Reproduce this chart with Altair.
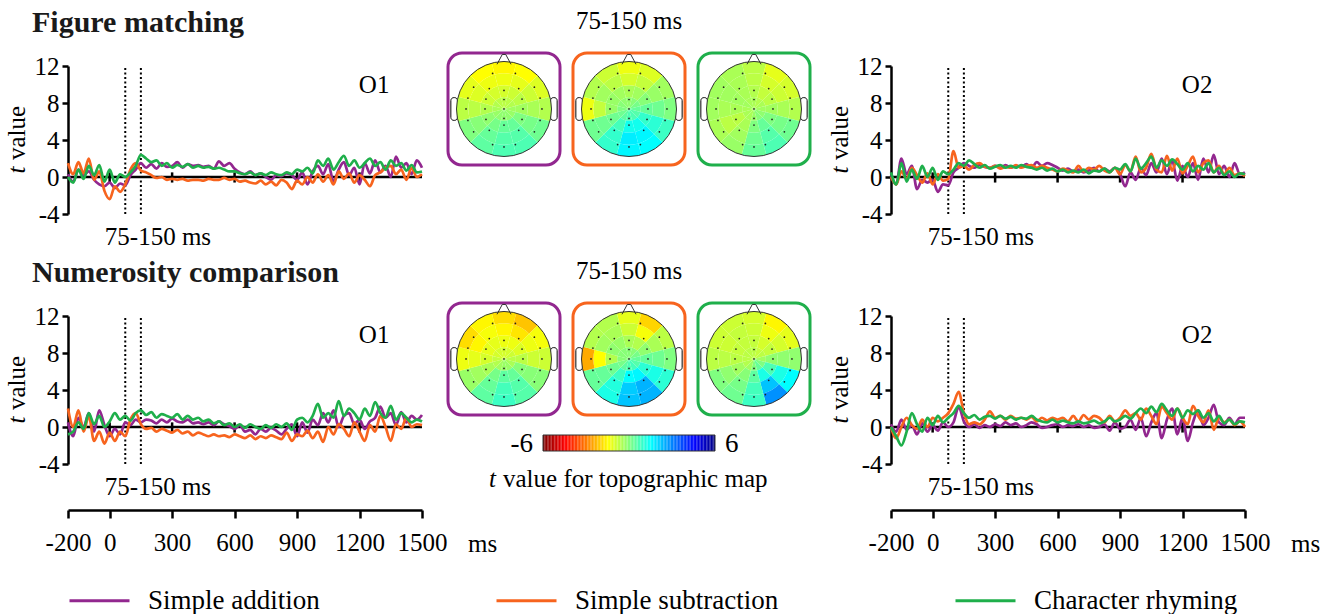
import altair as alt
import numpy as np
import pandas as pd

FONT = "Liberation Serif"

# ---------------- data ----------------
TIMES = list(range(-200, 1501, 25))
CONDITIONS = ["Simple addition", "Simple subtraction", "Character rhyming"]
COLORS = ["#92278F", "#F7641E", "#1FAF4B"]

fm_o1_add = [0.3, -0.5, 0.8, 0.2, 0.6, -0.3, -0.8, -1.0, -0.6, -1.2, -0.7, -0.9, 0.2, 0.8, 1.5, 1.0, 1.4, 0.9, 1.5, 1.1,
             1.2, 1.6, 1.0, 1.4, 1.2, 1.3, 1.1, 1.2, 0.9, 1.7, 1.2, 1.5, 0.9, 0.5, 0.3, 0.6, 0.2, 0.4, 0.0, -0.3,
             0.2, 0.1, 0.4, 0.2, -0.3, 0.5, -0.8, 0.6, 1.2, 0.3, 1.4, -0.5, 0.8, 1.6, 0.2, 1.0, -0.8, 1.5, 0.4, 1.8,
             0.5, 1.2, 0.0, 2.2, 1.0, 1.5, 0.3, 1.8, 1.0]
fm_o1_rhy = [0.0, -0.6, 0.8, -0.2, 1.2, 0.2, 1.3, -0.5, 0.8, -0.6, 0.3, 0.0, 0.5, 1.2, 2.4, 2.0, 1.6, 1.8, 1.2, 1.5,
             1.0, 1.3, 1.1, 1.4, 1.0, 1.2, 1.0, 1.1, 0.9, 1.0, 0.8, 0.6, 0.6, 0.4, 0.3, 0.5, 0.2, 0.4, 0.2, 0.5,
             0.3, 0.2, 0.5, 0.3, 0.8, 0.6, 1.0, 0.4, 1.8, 1.2, 2.0, 0.8, 1.6, 2.3, 1.2, 1.8, 1.0, 1.5, 2.0, 1.2,
             1.6, 0.8, 1.8, 1.2, 1.5, 0.7, 1.3, 0.5, 0.6]
fm_o1_sub = [1.5, 0.3, 1.6, 0.4, 2.0, -0.3, 0.6, -1.5, -2.4, -1.0, -1.6, -0.8, 0.8, 1.5, 0.7, 0.5, 0.2, -0.1, 0.0, -0.3,
             -0.2, -0.3, -0.2, -0.4, -0.3, -0.3, -0.4, -0.2, -0.3, -0.3, -0.1, -0.3, -0.2, -0.5, -0.4, -0.6, -0.7, -0.4, -0.8, -0.5,
             -0.9, -0.3, -0.6, -1.3, -0.4, -0.8, 0.0, -0.6, 0.3, -0.5, 0.2, -0.8, 0.6, -0.2, 0.4, -0.6, 0.2, -0.3, -1.0, 0.2,
             0.5, 1.0, 1.2, 0.3, 0.8, -0.3, 1.0, 0.0, 0.3]

fm_o2_add = [0.2, -0.8, 2.0, 0.3, 1.2, -1.3, -0.3, -0.6, -0.3, -1.6, -0.8, -0.9, 0.5, 1.0, 1.5, 1.2, 1.0, 1.3, 1.1, 1.0,
             1.2, 1.0, 1.3, 1.0, 1.2, 1.1, 1.4, 1.0, 1.6, 1.2, 1.5, 1.3, 1.0, 0.7, 0.9, 0.6, 0.8, 0.5, 0.7, 1.0,
             0.6, 0.9, 0.6, 1.0, 0.3, -1.0, 0.5, -0.3, 1.0, 0.2, 1.5, 0.5, 2.0, 0.3, 1.8, -0.4, 1.2, 0.0, 1.5, -0.3,
             2.0, 0.5, 2.4, 0.3, 1.2, 0.0, 1.5, 0.3, 0.5]
fm_o2_rhy = [0.5, -0.8, 1.5, -0.5, 0.8, -0.2, 1.2, 0.0, 1.0, -0.3, 0.6, 0.3, 0.8, 1.5, 1.2, 1.8, 1.4, 1.0, 1.3, 0.9,
             1.1, 1.3, 1.0, 1.2, 1.0, 1.3, 1.1, 1.0, 0.8, 1.0, 0.7, 0.9, 0.6, 0.8, 0.5, 0.7, 0.5, 0.8, 0.4, 0.7,
             0.6, 0.9, 0.5, 1.0, 0.8, 1.4, 0.6, 2.0, 0.9, 1.5, 2.2, 1.0, 1.8, 1.2, 1.9, 1.4, 0.8, 1.5, 0.6, 1.2,
             0.8, 1.5, 0.5, 1.0, 0.2, 0.6, 0.0, 0.4, 0.3]
fm_o2_sub = [0.0, -0.8, 0.6, -0.2, 1.0, 0.2, -0.6, 0.4, -0.8, 0.3, -0.4, -0.2, 2.8, 1.0, 1.2, 0.8, 1.3, 1.5, 1.1, 1.0,
             1.2, 0.9, 1.1, 1.0, 1.3, 1.0, 1.2, 1.3, 1.0, 1.2, 1.0, 0.8, 0.6, 0.9, 0.7, 0.5, 1.2, 0.6, 1.0, 0.8,
             1.2, 0.7, 0.5, 1.0, 0.3, 1.3, 0.6, 2.2, 0.5, 1.0, 2.5, 0.8, 0.5, 2.3, 0.7, 2.0, 0.4, 1.2, 2.2, 0.5,
             1.5, 1.8, 0.5, 1.2, 0.3, 1.0, 0.2, 0.4, 0.1]

nc_o1_add = [0.5, -1.0, 1.0, 0.0, 1.5, -0.5, 1.8, 0.2, -1.0, -0.2, -0.8, 0.5, 0.2, 0.8, 0.5, 0.8, 0.7, 0.4, 0.8, 0.5,
             0.9, 0.6, 0.5, 0.8, 0.4, 0.5, 0.3, 0.5, 0.2, 0.6, 0.3, 0.1, -0.2, 0.2, -0.5, -0.3, -0.8, -0.2, -0.5, -0.1,
             -0.4, -0.8, -0.2, 0.3, -1.0, 0.5, -0.6, 0.8, 0.2, 1.5, 0.5, 1.8, 0.0, 1.2, 1.5, 0.3, 0.8, -0.2, 0.6, 1.0,
             2.2, 1.0, 1.5, 0.2, 1.6, 0.5, 1.2, 0.8, 1.3]
nc_o1_rhy = [-0.8, -0.5, 0.5, -0.2, 1.5, 0.3, 1.2, 0.0, 0.6, 1.5, 0.8, 1.2, 0.7, 1.5, 1.8, 1.3, 1.6, 1.0, 1.4, 1.2,
             1.0, 1.4, 0.8, 1.2, 0.8, 1.0, 0.6, 0.8, 0.4, 0.6, 0.2, 0.4, 0.0, 0.3, -0.1, 0.3, 0.0, -0.2, 0.2, -0.1,
             0.3, 0.0, 0.4, -0.3, 0.8, 1.0, 0.5, 1.2, 2.5, 1.0, 1.5, 1.0, 2.8, 1.2, 2.0, 1.5, 0.8, 2.0, 1.2, 2.7,
             1.5, 1.0, 2.3, 0.8, 1.5, 1.0, 0.5, 0.8, 0.6]
nc_o1_sub = [2.0, 0.0, 1.8, -0.5, 1.2, -1.5, -0.5, -1.8, -0.6, -1.5, -0.5, -1.0, 0.8, 1.5, 0.3, -0.2, -0.1, -0.5, -0.2, -0.4,
             -0.6, -0.3, -0.7, -0.5, -0.9, -0.6, -0.8, -1.0, -0.8, -1.0, -0.9, -1.1, -0.8, -1.0, -1.2, -0.9, -1.3, -1.0, -1.2, -0.9,
             -1.1, -1.3, -0.6, -1.5, -0.8, -1.0, -0.4, -1.2, -0.5, -1.6, 0.0, -0.8, 0.3, -0.2, -1.0, 0.5, -0.5, -1.5, 0.2, -0.5,
             1.2, 0.0, -1.5, 0.3, -0.2, 1.0, 0.0, 0.3, 0.2]

nc_o2_add = [0.3, -0.5, 0.8, -0.3, 0.2, -0.8, 0.4, -0.5, 0.2, -0.4, 0.5, 0.0, 0.5, 2.2, 0.6, 0.0, 0.3, -0.1, 0.2, 0.0,
             0.3, 0.1, 0.5, 0.2, 0.4, 0.0, 0.2, 0.5, 0.3, -0.1, 0.0, 0.2, 0.3, 0.0, 0.2, 0.1, 0.3, 0.0, 0.2, -0.1,
             0.0, 0.3, -0.4, 0.5, -0.2, 0.0, 0.8, -0.3, 1.0, -1.0, 0.5, 1.5, -1.2, 0.8, 2.0, -0.8, 1.0, -1.5, 0.5, 1.8,
             0.2, 1.0, 2.4, 0.5, 0.2, 1.0, 0.3, 1.0, 1.0]
nc_o2_rhy = [0.0, -1.0, -2.0, -0.5, 1.5, 0.3, -0.5, 1.0, 0.2, 1.2, 0.5, 1.0, 1.5, 2.3, 1.5, 1.0, 1.3, 0.8, 1.1, 1.2,
             0.9, 1.2, 0.9, 1.1, 0.8, 1.0, 0.9, 1.2, 0.8, 0.6, 0.5, 0.8, 0.5, 0.7, 0.5, 0.4, 0.6, 0.4, 0.5, 0.7,
             0.4, 0.6, 1.0, 0.6, 0.8, 1.2, 0.9, 1.5, 2.0, 1.5, 2.2, 1.6, 2.5, 1.8, 1.2, 2.0, 1.0, 1.8, 1.4, 1.8,
             1.0, 1.5, 0.6, 1.2, 0.4, 0.8, 0.3, 0.6, 0.5]
nc_o2_sub = [0.0, -1.2, 0.0, 1.0, 0.2, -0.2, 0.8, 0.0, 1.0, 0.6, 1.0, 1.5, 2.5, 3.8, 1.5, 0.3, 0.5, 0.3, 0.8, 1.7,
             1.0, 1.2, 0.8, 1.2, 0.9, 1.0, 0.8, 1.1, 0.6, 1.0, 0.7, 1.0, 0.8, 1.0, 0.6, 1.2, 0.6, 1.3, 0.8, 1.2,
             1.0, 0.5, 1.2, 0.6, 1.0, 1.8, 1.2, 1.5, 0.8, 2.0, 1.2, 0.3, 2.2, 1.5, 0.8, 2.0, 1.0, 0.3, 2.3, 1.2,
             0.5, 1.8, -0.3, 1.0, 0.5, 0.8, 0.2, 0.6, 0.0]

WINDOW = [75, 150]
ZERO_TICKS = [0, 300, 600, 900, 1200]
X_TICKS = [-200, 0, 300, 600, 900, 1200, 1500]
Y_TICKS = [-4, 0, 4, 8, 12]

# topographic maps: rings (centre -> edge) x 12 sectors (clockwise from nose)
RING_EDGES = [0.0, 0.25, 0.5, 0.75, 1.0]
topo_fm_add = [[-0.7, -0.7, -0.6, -0.4, -0.3, -0.2, -0.2, -0.2, -0.3, -0.5, -0.6, -0.7],
               [-1.0, -0.9, -0.7, -0.4, 0.0, 0.3, 0.3, 0.1, -0.2, -0.6, -0.9, -1.0],
               [-1.3, -1.2, -0.9, -0.5, 0.1, 0.5, 0.5, 0.3, -0.1, -0.7, -1.1, -1.3],
               [-1.6, -1.5, -1.1, -0.6, 0.2, 0.6, 0.6, 0.4, 0.0, -0.7, -1.2, -1.5]]
topo_fm_sub = [[-0.2, -0.1, 0.1, 0.3, 0.5, 0.6, 0.6, 0.4, 0.2, 0.0, -0.1, -0.2],
               [-0.5, -0.4, -0.1, 0.3, 0.9, 1.3, 1.3, 0.7, 0.2, -0.3, -0.3, -0.4],
               [-1.0, -0.8, -0.3, 0.2, 1.0, 1.6, 1.7, 0.9, 0.2, -0.8, -0.4, -0.7],
               [-1.3, -1.1, -0.4, 0.0, 0.8, 1.5, 1.6, 0.9, 0.2, -1.3, -0.6, -0.9]]
topo_fm_rhy = [[-0.5, -0.6, -0.5, -0.4, -0.2, -0.1, -0.3, -0.5, -0.5, -0.5, -0.4, -0.5],
               [-0.6, -0.8, -0.7, -0.4, 0.0, 0.3, 0.0, -0.5, -0.7, -0.5, -0.4, -0.5],
               [-0.7, -1.0, -0.9, -0.5, 0.1, 0.5, 0.2, -0.4, -0.7, -0.5, -0.4, -0.5],
               [-0.7, -1.2, -1.0, -0.6, 0.2, 0.6, 0.3, -0.3, -0.5, -0.4, -0.4, -0.5]]
topo_nc_add = [[-1.0, -1.0, -0.9, -0.7, -0.5, -0.3, -0.3, -0.4, -0.6, -0.8, -1.0, -1.0],
               [-1.3, -1.3, -1.1, -0.7, -0.1, 0.3, 0.4, 0.1, -0.5, -1.0, -1.2, -1.2],
               [-1.6, -1.8, -1.3, -0.9, -0.1, 0.5, 0.7, 0.3, -0.4, -1.2, -1.6, -1.4],
               [-1.9, -2.2, -1.4, -0.9, -0.1, 0.5, 0.8, 0.4, -0.3, -1.3, -1.9, -1.6]]
topo_nc_sub = [[-0.1, -0.1, 0.1, 0.3, 0.5, 0.7, 0.6, 0.4, 0.1, -0.1, -0.1, -0.1],
               [-0.5, -0.6, -0.2, 0.3, 1.0, 1.6, 1.5, 0.8, 0.2, -0.6, -0.2, -0.3],
               [-0.9, -1.4, -0.5, 0.2, 1.2, 2.4, 2.1, 1.1, 0.3, -1.5, -0.4, -0.5],
               [-1.2, -2.0, -0.7, 0.0, 1.0, 2.4, 2.2, 1.2, 0.3, -2.5, -0.6, -0.6]]
topo_nc_rhy = [[-0.7, -0.8, -0.7, -0.4, 0.0, 0.3, 0.0, -0.4, -0.6, -0.7, -0.7, -0.7],
               [-0.8, -1.0, -0.8, -0.2, 0.6, 1.2, 0.4, -0.1, -0.4, -0.7, -0.8, -0.8],
               [-0.9, -1.3, -1.0, -0.2, 1.2, 2.2, 0.7, 0.1, -0.2, -0.7, -0.9, -0.8],
               [-1.0, -1.6, -1.2, -0.2, 1.5, 2.8, 0.8, 0.2, 0.0, -0.7, -0.9, -0.9]]

ELECTRODE_X = [-0.24, 0.24,
               -0.64, -0.31, 0.0, 0.31, 0.64,
               -0.76, -0.38, 0.0, 0.38, 0.76,
               -0.8, -0.4, 0.0, 0.4, 0.8,
               -0.76, -0.38, 0.0, 0.38, 0.76,
               -0.64, -0.31, 0.0, 0.31, 0.64,
               -0.24, 0.0, 0.24]
ELECTRODE_Y = [0.75, 0.75,
               0.46, 0.43, 0.39, 0.43, 0.46,
               0.23, 0.21, 0.2, 0.21, 0.23,
               0.0, 0.0, 0.0, 0.0, 0.0,
               -0.24, -0.22, -0.2, -0.22, -0.24,
               -0.48, -0.45, -0.34, -0.45, -0.48,
               -0.75, -0.8, -0.75]

CBAR_LIMITS = [-6, 6]
JET_DOMAIN = [-6, -4.5, -3, -1.5, 0, 1.5, 3, 4.5, 6]
JET_RANGE = ["#800000", "#ff0000", "#ff8000", "#ffff00", "#80ff80", "#00ffff", "#0080ff", "#0000ff", "#000080"]

# ---------------- layout constants ----------------
PW, PH = 354, 148          # ERP plot area
MW = 417                   # middle (topographic) column width
BOX = 112                  # head box size (px)
HEAD_STEP = 125            # distance between head boxes (px)
R = 47.5                   # head radius (px)
U = 2.36 / BOX             # head data units per px
TOPO = alt.Scale(domain=JET_DOMAIN, range=JET_RANGE, interpolate="rgb")
XS = alt.Scale(domain=[-200, 1500], nice=False, zero=False)
YS = alt.Scale(domain=[-4, 12], nice=False, zero=False)

NBSP2 = "\u00a0\u00a0"
LEGEND = alt.Legend(title=None, orient="none", legendX=0, legendY=503, direction="horizontal", columns=3,
                    columnPadding=170, symbolType="stroke", symbolSize=3600, symbolStrokeWidth=3,
                    labelFont=FONT, labelFontSize=27, labelColor="black", labelOffset=17, labelLimit=400,
                    labelExpr="datum.label == 'Simple subtraction' ? datum.label + '" + NBSP2 + "' : datum.label")


def erp_panel(add, sub, rhy, label, title, bottom):
    df = pd.DataFrame({
        "time": TIMES * 3,
        "t": add + sub + rhy,
        "cond": [CONDITIONS[0]] * len(TIMES) + [CONDITIONS[1]] * len(TIMES) + [CONDITIONS[2]] * len(TIMES),
    })
    if bottom:
        xaxis = alt.Axis(values=X_TICKS, offset=46, domainWidth=2.5, domainColor="black", tickWidth=2.5,
                         tickColor="black", tickSize=8, labelFontSize=25, labelFont=FONT, labelColor="black",
                         labelPadding=12, grid=False, title=None, labelFlush=False, labelOverlap=False,
                         labelExpr="'' + datum.value")
    else:
        xaxis = None
    yaxis = alt.Axis(values=Y_TICKS, domainWidth=2.5, domainColor="black", tickWidth=2.5, tickColor="black",
                     tickSize=6, labelFontSize=25, labelFont=FONT, labelColor="black", labelPadding=3,
                     labelExpr="'' + datum.value", grid=False, title=None)

    def X(f):
        return alt.X(f, scale=XS, axis=xaxis)

    def Y(f):
        return alt.Y(f, scale=YS, axis=yaxis)

    lines = alt.Chart(df).mark_line(strokeWidth=2.7, interpolate="monotone").encode(
        x=X("time:Q"), y=Y("t:Q"),
        stroke=alt.Stroke("cond:N", scale=alt.Scale(domain=CONDITIONS, range=COLORS), legend=LEGEND),
    )
    zero = alt.Chart(pd.DataFrame({"time": [-200], "end": [1500], "t": [0]})).mark_rule(
        color="black", strokeWidth=2.5).encode(x=X("time:Q"), x2="end:Q", y=Y("t:Q"))
    zt = alt.Chart(pd.DataFrame({"time": ZERO_TICKS, "t": [-0.6] * 5, "t2": [0.5] * 5})).mark_rule(
        color="black", strokeWidth=2.5).encode(x=X("time:Q"), y=Y("t:Q"), y2="t2:Q")
    win = alt.Chart(pd.DataFrame({"time": WINDOW, "t": [-4, -4], "t2": [12, 12]})).mark_rule(
        color="black", strokeWidth=2, strokeDash=[2, 2.5]).encode(x=X("time:Q"), y=Y("t:Q"), y2="t2:Q")
    txt = alt.Chart(pd.DataFrame({"time": [1270, 232], "t": [10, -6.5], "s": [label, "75-150 ms"]})).mark_text(
        font=FONT, fontSize=25, color="black").encode(x=X("time:Q"), y=Y("t:Q"), text="s:N")
    # y-axis title "t value" with an italic t
    yt_t = alt.Chart(pd.DataFrame({"s": ["t"]})).mark_text(
        font=FONT, fontSize=25, fontStyle="italic", color="black", angle=270, baseline="bottom").encode(
        x=alt.value(-38), y=alt.value(104), text="s:N")
    yt_v = alt.Chart(pd.DataFrame({"s": ["value"]})).mark_text(
        font=FONT, fontSize=25, color="black", angle=270, baseline="bottom").encode(
        x=alt.value(-38), y=alt.value(67), text="s:N")
    layers = [win, zero, zt, lines, txt, yt_t, yt_v]
    if bottom:
        ms = alt.Chart(pd.DataFrame({"time": [1500], "t": [-4], "s": ["ms"]})).mark_text(
            font=FONT, fontSize=25, color="black", align="left", baseline="middle", dx=46, dy=80).encode(
            x=X("time:Q"), y=Y("t:Q"), text="s:N")
        layers.append(ms)
    ch = alt.layer(*layers).properties(width=PW, height=PH)
    if title is not None:
        ch = ch.properties(title=alt.TitleParams(title, anchor="start", frame="group", fontSize=30, font=FONT,
                                                 fontWeight="bold", color="#1a1a1a", dx=-36, offset=16))
    return ch


def heads_layer(maps):
    hx = alt.Scale(domain=[-1.18, -1.18 + MW * U], nice=False, zero=False)
    hy = alt.Scale(domain=[-2.213, 0.906], nice=False, zero=False)
    layers = []
    for i, (vals, color) in enumerate(zip(maps, COLORS)):
        cx = i * HEAD_STEP * U
        box = alt.Chart(pd.DataFrame({"x0": [cx - 1.18], "x1": [cx + 1.18], "y0": [-1.18], "y1": [1.18]})).mark_rect(
            fill="white", stroke=color, strokeWidth=3, cornerRadius=14).encode(
            x=alt.X("x0:Q", scale=hx, axis=None), x2="x1:Q", y=alt.Y("y0:Q", scale=hy, axis=None), y2="y1:Q")
        ears = alt.Chart(pd.DataFrame({"x0": [cx - 1.12, cx + 0.98], "x1": [cx - 0.98, cx + 1.12],
                                       "y0": [-0.24, -0.24], "y1": [0.24, 0.24]})).mark_rect(
            fill="white", stroke="black", strokeWidth=1, cornerRadius=3).encode(
            x=alt.X("x0:Q", scale=hx, axis=None), x2="x1:Q", y=alt.Y("y0:Q", scale=hy, axis=None), y2="y1:Q")
        rows = []
        for j in range(4):
            for k in range(12):
                rows.append({"cx": cx, "cy": 0.0, "r0": RING_EDGES[j], "r1": RING_EDGES[j + 1],
                             "a0": k * 30 - 15, "a1": k * 30 + 15, "tv": vals[j][k]})
        arcs = alt.Chart(pd.DataFrame(rows)).mark_arc(strokeWidth=0).encode(
            x=alt.X("cx:Q", scale=hx, axis=None), y=alt.Y("cy:Q", scale=hy, axis=None),
            theta=alt.Theta("a0:Q", stack=None, scale=alt.Scale(domain=[0, 360], range=[0, 2 * np.pi])),
            theta2="a1:Q",
            radius=alt.Radius("r0:Q", scale=alt.Scale(type="linear", domain=[0, 1], range=[0, R])),
            radius2="r1:Q",
            fill=alt.Fill("tv:Q", scale=TOPO, legend=None),
        )
        outline = alt.Chart(pd.DataFrame({"x": [cx], "y": [0.0]})).mark_point(
            shape="circle", size=(2 * R) ** 2, filled=False, color="#333", strokeWidth=1, opacity=1).encode(
            x=alt.X("x:Q", scale=hx, axis=None), y=alt.Y("y:Q", scale=hy, axis=None))
        nose = alt.Chart(pd.DataFrame({"x": [cx], "y": [1.06]})).mark_point(
            shape="M -1 0.8 L -0.25 -0.6 L 0.25 -0.6 L 1 0.8", size=196, filled=False, color="#333",
            strokeWidth=1, opacity=1).encode(
            x=alt.X("x:Q", scale=hx, axis=None), y=alt.Y("y:Q", scale=hy, axis=None))
        elec = alt.Chart(pd.DataFrame({"x": [cx + e for e in ELECTRODE_X], "y": ELECTRODE_Y})).mark_point(
            shape="circle", size=3, filled=True, color="#222", opacity=1).encode(
            x=alt.X("x:Q", scale=hx, axis=None), y=alt.Y("y:Q", scale=hy, axis=None))
        layers += [box, ears, arcs, outline, nose, elec]
    return alt.layer(*layers)


def colorbar_layer():
    vals = [round(v, 2) for v in np.arange(-6, 6.0, 0.1)]
    df = pd.DataFrame({"v": vals, "v2": [v + 0.1 for v in vals]})
    cpx = 12 / 172  # colorbar units per px
    sx = alt.Scale(domain=[-6 - 95 * cpx, -6 - 95 * cpx + MW * cpx], nice=False, zero=False)
    bar = alt.Chart(df).mark_rect().encode(
        x=alt.X("v:Q", scale=sx, axis=None), x2="v2:Q", y=alt.value(119), y2=alt.value(135),
        fill=alt.Fill("v:Q", scale=TOPO, legend=None))
    frame = alt.Chart(pd.DataFrame({"a": [-6], "b": [6]})).mark_rect(
        fillOpacity=0, stroke="#333", strokeWidth=1).encode(
        x=alt.X("a:Q", scale=sx, axis=None), x2="b:Q", y=alt.value(119), y2=alt.value(135))
    lab_l = alt.Chart(pd.DataFrame({"v": [CBAR_LIMITS[0]], "s": ["-6"]})).mark_text(
        font=FONT, fontSize=27, color="black", align="right", dx=-10).encode(
        x=alt.X("v:Q", scale=sx, axis=None), y=alt.value(128), text="s:N")
    lab_r = alt.Chart(pd.DataFrame({"v": [CBAR_LIMITS[1]], "s": ["6"]})).mark_text(
        font=FONT, fontSize=27, color="black", align="left", dx=10).encode(
        x=alt.X("v:Q", scale=sx, axis=None), y=alt.value(128), text="s:N")
    cap_t = alt.Chart(pd.DataFrame({"v": [0], "s": ["t"]})).mark_text(
        font=FONT, fontSize=25, fontStyle="italic", color="black", align="left", dx=-140).encode(
        x=alt.X("v:Q", scale=sx, axis=None), y=alt.value(163), text="s:N")
    cap = alt.Chart(pd.DataFrame({"v": [0], "s": ["value for topographic map"]})).mark_text(
        font=FONT, fontSize=25, color="black", align="left", dx=-126).encode(
        x=alt.X("v:Q", scale=sx, axis=None), y=alt.value(163), text="s:N")
    return alt.layer(bar, frame, lab_l, lab_r, cap_t, cap)


MID_TITLE = dict(anchor="middle", fontSize=25, font=FONT, fontWeight="normal", color="black", offset=17,
                 dx=-(MW - (2 * HEAD_STEP + BOX)) / 2)

mid1 = heads_layer([topo_fm_add, topo_fm_sub, topo_fm_rhy]).properties(
    width=MW, height=PH, title=alt.TitleParams("75-150 ms", **MID_TITLE))
mid2 = alt.layer(heads_layer([topo_nc_add, topo_nc_sub, topo_nc_rhy]), colorbar_layer()).resolve_scale(
    x="independent").properties(width=MW, height=PH, title=alt.TitleParams("75-150 ms", **MID_TITLE))

chart = alt.concat(
    erp_panel(fm_o1_add, fm_o1_sub, fm_o1_rhy, "O1", "Figure matching", False),
    mid1,
    erp_panel(fm_o2_add, fm_o2_sub, fm_o2_rhy, "O2", None, False),
    erp_panel(nc_o1_add, nc_o1_sub, nc_o1_rhy, "O1", "Numerosity comparison", True),
    mid2,
    erp_panel(nc_o2_add, nc_o2_sub, nc_o2_rhy, "O2", None, True),
    columns=3, spacing={"row": 102, "column": 26}, bounds="flush",
).resolve_scale(x="independent", y="independent").properties(
    padding={"left": 5, "top": 8, "right": 0, "bottom": 0},
).configure(font=FONT).configure_view(strokeWidth=0)

chart.save("out.html", embed_options={"renderer": "svg", "actions": False})
